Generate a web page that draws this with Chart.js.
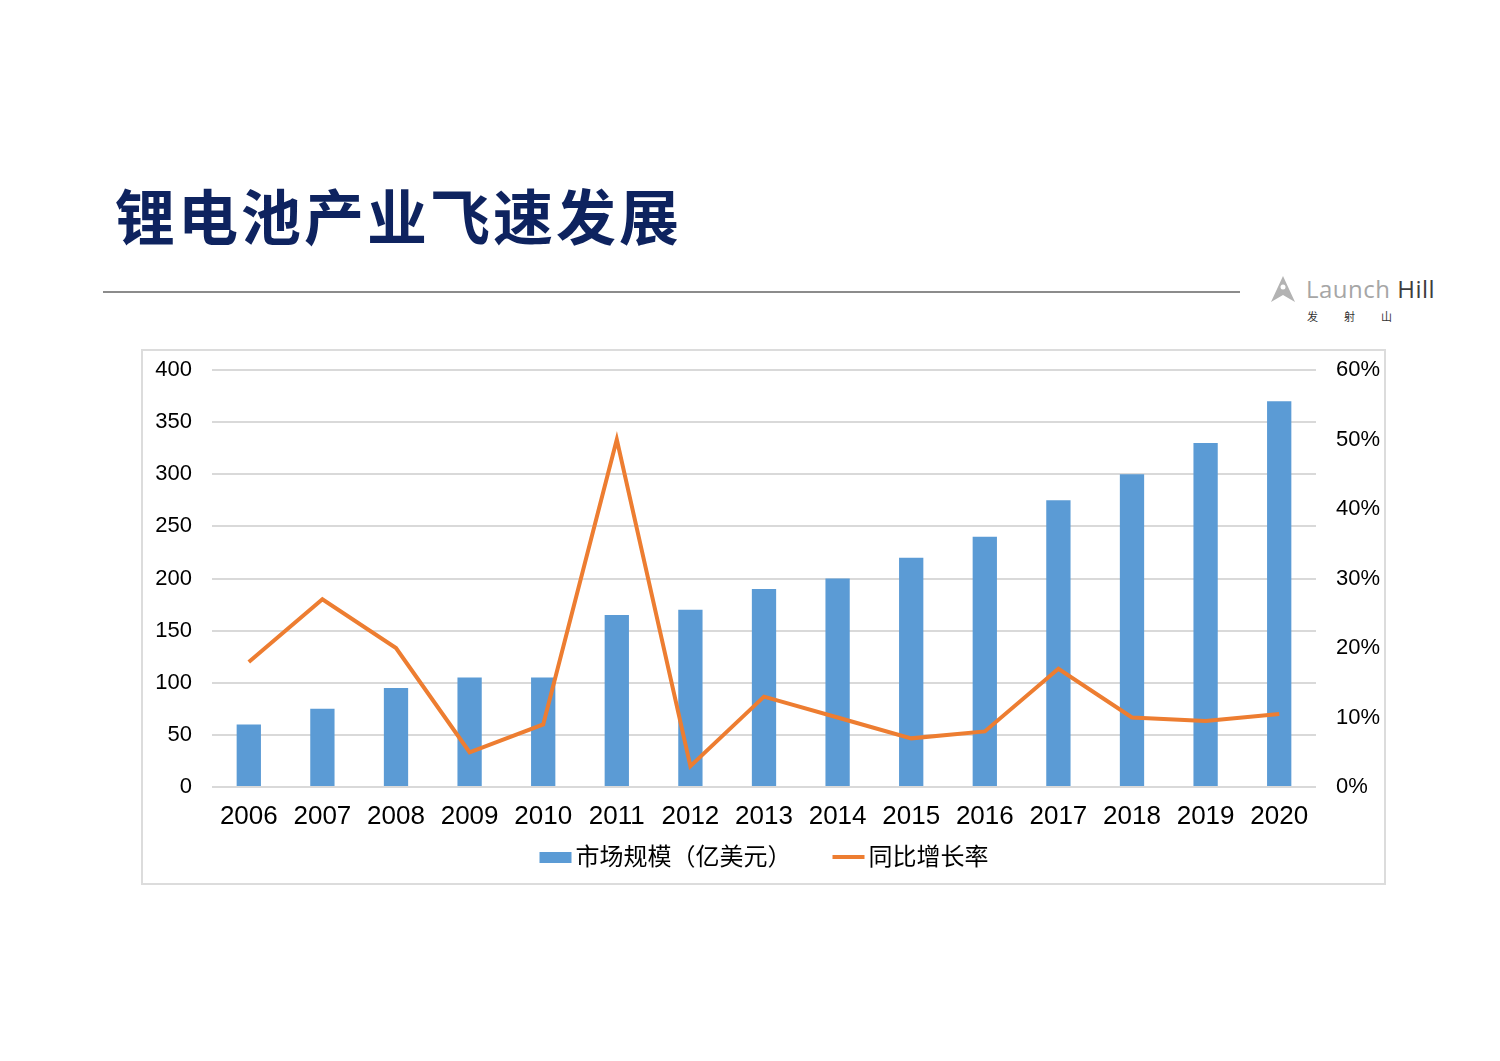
<!DOCTYPE html>
<html>
<head>
<meta charset="utf-8">
<script src="https://cdn.jsdelivr.net/npm/chart.js@4/dist/chart.umd.min.js"></script>
<style>
  body { margin: 0; background: #fff; width: 1500px; height: 1061px; position: relative; overflow: hidden; font-family: 'Liberation Sans', 'Noto Sans CJK SC', sans-serif; }
  #title { position: absolute; left: 115px; top: 174px; font-family: 'Noto Sans CJK SC', sans-serif; font-weight: 700; font-size: 60px; color: #0e235f; letter-spacing: 3px; line-height: 80px; }
  #rule { position: absolute; left: 103px; top: 291px; width: 1137px; height: 0; border-top: 2px solid #8c8c8c; }
  #logo { position: absolute; left: 1270px; top: 272px; width: 180px; height: 50px; }
  #logo .name { position: absolute; left: 36px; top: 0; font-family: 'Open Sans', sans-serif; font-size: 24px; letter-spacing: 0.5px; color: #a6a6a6; white-space: nowrap; }
  #logo .name b { font-weight: 400; color: #3d3d3d; }
  #logo .sub { position: absolute; left: 37px; top: 36px; font-family: 'Noto Sans CJK SC', sans-serif; font-size: 11px; color: #333; letter-spacing: 26px; white-space: nowrap; }
  #box { position: absolute; left: 141px; top: 349px; width: 1245px; height: 536px; box-sizing: border-box; border: 2px solid #dcdcdc; }
</style>
</head>
<body>
<div id="title">锂电池产业飞速发展</div>
<div id="rule"></div>
<div id="logo">
  <svg width="26" height="30" viewBox="0 0 26 30" style="position:absolute;left:0;top:3px">
    <path d="M13 1 L25 27 L13 20 L1 27 Z" fill="#b3b3b3"/>
    <circle cx="13" cy="12" r="2.5" fill="#fff"/>
  </svg>
  <div class="name">Launch <b>Hill</b></div>
  <div class="sub">发射山</div>
</div>
<div id="box"><canvas id="chart"></canvas></div>
<script>
// 数据
const years = ['2006', '2007', '2008', '2009', '2010', '2011', '2012', '2013', '2014', '2015', '2016', '2017', '2018', '2019', '2020'];
const marketSize = [60, 75, 95, 105, 105, 165, 170, 190, 200, 220, 240, 275, 300, 330, 370];
const growthRate = [18, 27, 20, 5, 9, 50, 3, 13, 10, 7, 8, 17, 10, 9.5, 10.5];

const BLUE = '#5b9bd5';
const ORANGE = '#ed7d31';
const GRID = '#d9d9d9';
const FONT = "'Liberation Sans', 'Noto Sans CJK SC', sans-serif";

// 纵轴上下不要多余留白
function fixY(width) {
  return s => { s.width = width; s.paddingTop = 19; s.paddingBottom = 0; };
}

// 底部图例：色块紧贴文字，两项之间留较宽间距（内置图例做不到）
const bottomLegend = {
  id: 'bottomLegend',
  afterDraw(chart) {
    const ctx = chart.ctx;
    const ds = chart.data.datasets;
    const items = [
      { text: ds[1].label, color: ds[1].backgroundColor, h: 11 },
      { text: ds[0].label, color: ds[0].borderColor, h: 4 }
    ];
    ctx.save();
    ctx.font = '24px ' + FONT;
    ctx.textBaseline = 'middle';
    ctx.fillStyle = '#000';
    const widths = items.map(it => 36 + ctx.measureText(it.text).width);
    const gap = 41;
    const area = chart.chartArea;
    let x = (area.left + area.right) / 2 - (widths[0] + widths[1] + gap) / 2;
    const y = chart.height - 26;
    items.forEach((it, i) => {
      ctx.fillStyle = it.color;
      ctx.fillRect(x, Math.round(y - it.h / 2), 32, it.h);
      ctx.fillStyle = '#000';
      ctx.fillText(it.text, x + 36, y + 1);
      x += widths[i] + gap;
    });
    ctx.restore();
  }
};

new Chart(document.getElementById('chart'), {
  type: 'bar',
  data: {
    labels: years,
    datasets: [
      {
        type: 'line',
        label: '同比增长率',
        data: growthRate,
        yAxisID: 'y1',
        borderColor: ORANGE,
        backgroundColor: ORANGE,
        borderWidth: 4,
        pointRadius: 0,
        tension: 0,
        fill: false
      },
      {
        label: '市场规模（亿美元）',
        data: marketSize,
        yAxisID: 'y',
        backgroundColor: BLUE,
        borderWidth: 0,
        categoryPercentage: 1,
        barPercentage: 0.33
      }
    ]
  },
  options: {
    responsive: true,
    maintainAspectRatio: false,
    animation: false,
    layout: { padding: { left: 0, right: 0, top: 0, bottom: 43 } },
    plugins: {
      legend: { display: false },
      tooltip: { enabled: false }
    },
    scales: {
      x: {
        grid: { display: false },
        border: { display: false },
        ticks: { color: '#000', font: { family: FONT, size: 26 }, maxRotation: 0, autoSkip: false, padding: 6 },
        afterFit: s => { s.height = 53; }
      },
      y: {
        position: 'left',
        min: 0, max: 400,
        ticks: { stepSize: 50, color: '#000', font: { family: FONT, size: 22 }, padding: 20 },
        grid: { color: GRID, lineWidth: 2, drawTicks: false },
        border: { display: false },
        afterFit: fixY(69)
      },
      y1: {
        position: 'right',
        min: 0, max: 60,
        ticks: { stepSize: 10, color: '#000', font: { family: FONT, size: 22 }, padding: 20, callback: v => v + '%' },
        grid: { display: false, drawTicks: false },
        border: { display: false },
        afterFit: fixY(68)
      }
    }
  },
  plugins: [bottomLegend]
});
</script>
</body>
</html>
